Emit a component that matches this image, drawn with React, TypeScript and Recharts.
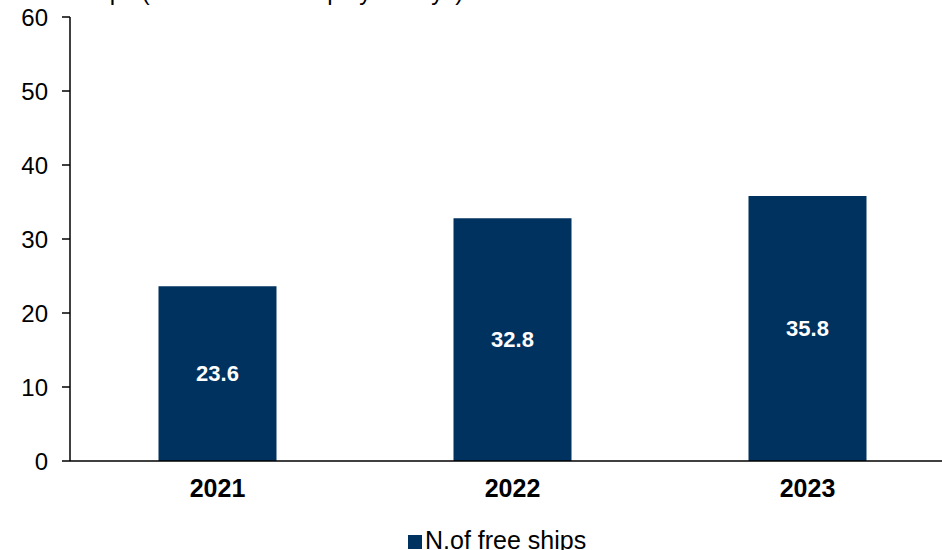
import { Bar, BarChart, XAxis, YAxis, Legend, LabelList } from "recharts";

const years = ["2021", "2022", "2023"];
const freeShips = [23.6, 32.8, 35.8];
const yTicks = [0, 10, 20, 30, 40, 50, 60];

const data = years.map((year, i) => ({ year, ships: freeShips[i] }));

const BAR_COLOR = "#00325f";
const FONT = "Arial, 'Liberation Sans', sans-serif";

function LegendContent() {
  return (
    <div style={{ display: "flex", alignItems: "center", fontFamily: FONT, fontSize: 25, lineHeight: "29px", color: "#000" }}>
      <span style={{ width: 14, height: 14, background: BAR_COLOR, display: "inline-block", marginRight: 3, marginTop: 3 }} />
      <span>N.of free ships</span>
    </div>
  );
}

export default function App() {
  return (
    <div style={{ position: "absolute", left: 0, top: 0, width: 942, height: 550, overflow: "hidden", background: "#fff" }}>
      <div style={{ position: "absolute", left: 75, top: -22, fontFamily: FONT, fontSize: 24, whiteSpace: "nowrap" }}>
        Ships (thousands of employed days)
      </div>
      <BarChart
        width={955}
        height={550}
        data={data}
        margin={{ top: 17, right: 0, bottom: 20, left: 0 }}
        barCategoryGap="30%"
      >
        <XAxis
          dataKey="year"
          tickLine={false}
          axisLine={{ stroke: "#000", strokeWidth: 1.5 }}
          tick={{ fill: "#000", fontSize: 25, fontWeight: 700, fontFamily: FONT }}
          tickMargin={12}
          height={40}
        />
        <YAxis
          domain={[0, 60]}
          ticks={yTicks}
          width={70}
          tickSize={8}
          tickMargin={14}
          axisLine={{ stroke: "#000", strokeWidth: 1.5 }}
          tickLine={{ stroke: "#000", strokeWidth: 1.5 }}
          tick={{ fill: "#000", fontSize: 24, fontFamily: FONT }}
          interval={0}
        />
        <Legend
          content={<LegendContent />}
          wrapperStyle={{ position: "absolute", left: 408, top: 526, width: "auto" }}
        />
        <Bar dataKey="ships" fill={BAR_COLOR} isAnimationActive={false}>
          <LabelList
            dataKey="ships"
            position="center"
            fill="#fff"
            style={{ fontSize: 22, fontWeight: 700, fontFamily: FONT }}
            formatter={(v: number) => v.toFixed(1)}
          />
        </Bar>
      </BarChart>
    </div>
  );
}
